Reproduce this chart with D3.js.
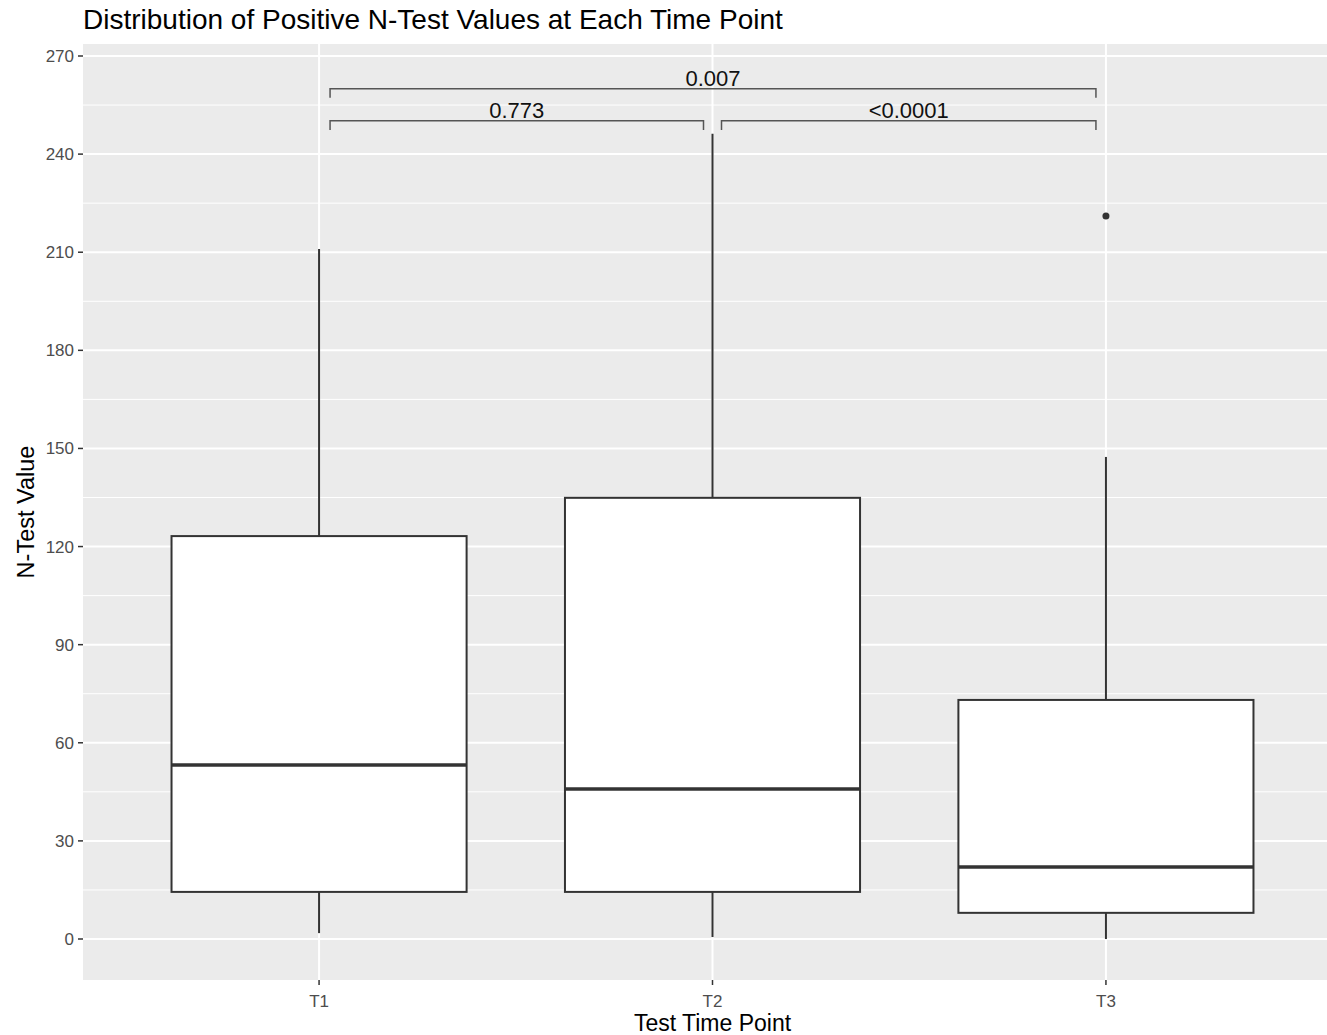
<!DOCTYPE html>
<html><head><meta charset="utf-8">
<script src="https://cdn.jsdelivr.net/npm/d3@7"></script>
<style>body{margin:0;background:#fff;} text{font-family:"Liberation Sans",Arial,sans-serif;}</style>
</head><body>
<svg id="chart" width="1327" height="1035"></svg>
<script>
const categories = ["T1","T2","T3"];
const lowerWhisker = [1.8, 0.6, 0];
const q1Values = [14.4, 14.4, 8];
const medians = [53.2, 45.9, 22];
const q3Values = [123.2, 134.9, 73.1];
const upperWhisker = [211, 246.2, 147.4];
const outliers = [{cat:"T3", value:221.1}];
const yTicks = [0,30,60,90,120,150,180,210,240,270];
const comparisons = [
  {from:"T1", to:"T2", level:250.2, label:"0.773"},
  {from:"T2", to:"T3", level:250.2, label:"<0.0001"},
  {from:"T1", to:"T3", level:260, label:"0.007"}
];

(function(){
const svg = d3.select("#chart");
const pL = 83, pR = 1342, pT = 44, pB = 980;
const y = d3.scaleLinear().domain([0,270]).range([939,56]);
const xc = d3.scaleLinear().domain([0.4, 3.6]).range([pL, pR]);
const xpos = c => xc(categories.indexOf(c) + 1);
const bandW = xc(2) - xc(1);

svg.append("rect").attr("x",pL).attr("y",pT).attr("width",pR-pL).attr("height",pB-pT).attr("fill","#EBEBEB");

const grid = svg.append("g");
const minor = d3.range(15, 285, 30);
minor.forEach(v => { if (y(v) > pT) grid.append("line").attr("x1",pL).attr("x2",pR).attr("y1",y(v)).attr("y2",y(v)).attr("stroke","#fff").attr("stroke-width",1); });
yTicks.forEach(v => grid.append("line").attr("x1",pL).attr("x2",pR).attr("y1",y(v)).attr("y2",y(v)).attr("stroke","#fff").attr("stroke-width",2));
categories.forEach(c => grid.append("line").attr("x1",xpos(c)).attr("x2",xpos(c)).attr("y1",pT).attr("y2",pB).attr("stroke","#fff").attr("stroke-width",2));

const lc = "#333333";
const boxes = svg.append("g");
categories.forEach((c,i) => {
  const cx = xpos(c), hw = bandW*0.75/2;
  boxes.append("line").attr("x1",cx).attr("x2",cx).attr("y1",y(q3Values[i])).attr("y2",y(upperWhisker[i])).attr("stroke",lc).attr("stroke-width",2);
  boxes.append("line").attr("x1",cx).attr("x2",cx).attr("y1",y(q1Values[i])).attr("y2",y(lowerWhisker[i])).attr("stroke",lc).attr("stroke-width",2);
  boxes.append("rect").attr("x",cx-hw).attr("width",2*hw).attr("y",y(q3Values[i])).attr("height",y(q1Values[i])-y(q3Values[i]))
    .attr("fill","#fff").attr("stroke",lc).attr("stroke-width",2);
  boxes.append("line").attr("x1",cx-hw).attr("x2",cx+hw).attr("y1",y(medians[i])).attr("y2",y(medians[i])).attr("stroke",lc).attr("stroke-width",3.5);
});
outliers.forEach(o => boxes.append("circle").attr("cx",xpos(o.cat)).attr("cy",y(o.value)).attr("r",3.5).attr("fill",lc));

const br = svg.append("g");
comparisons.forEach(cm => {
  let xa = xpos(cm.from) + 11, xb = xpos(cm.to) - 10;
  if (cm.from === "T2") xa = xpos(cm.from) + 9;
  if (cm.to === "T2") xb = xpos(cm.to) - 9;
  const yl = y(cm.level), yt = y(cm.level - 2.8);
  br.append("path").attr("d",`M${xa},${yt}V${yl}H${xb}V${yt}`).attr("fill","none").attr("stroke","#555").attr("stroke-width",1.5);
  br.append("text").attr("x",(xa+xb)/2).attr("y",yl-3).attr("text-anchor","middle").attr("font-size",22).attr("fill","#111").text(cm.label);
});

const ax = svg.append("g");
yTicks.forEach(v => {
  ax.append("line").attr("x1",pL-5).attr("x2",pL).attr("y1",y(v)).attr("y2",y(v)).attr("stroke","#333").attr("stroke-width",1.5);
  ax.append("text").attr("x",pL-9).attr("y",y(v)).attr("dy","0.35em").attr("text-anchor","end").attr("font-size",17).attr("fill","#4D4D4D").text(v);
});
categories.forEach(c => {
  ax.append("line").attr("x1",xpos(c)).attr("x2",xpos(c)).attr("y1",pB).attr("y2",pB+5).attr("stroke","#333").attr("stroke-width",1.5);
  ax.append("text").attr("x",xpos(c)).attr("y",1007).attr("text-anchor","middle").attr("font-size",17).attr("fill","#4D4D4D").text(c);
});
svg.append("text").attr("x",xpos("T2")).attr("y",1031).attr("text-anchor","middle").attr("font-size",23).attr("fill","#000").text("Test Time Point");
svg.append("text").attr("transform",`translate(34,512) rotate(-90)`).attr("text-anchor","middle").attr("font-size",23.5).attr("fill","#000").text("N-Test Value");
svg.append("text").attr("x",83).attr("y",29).attr("font-size",28).attr("fill","#000").text("Distribution of Positive N-Test Values at Each Time Point");
})();
</script>
</body></html>
